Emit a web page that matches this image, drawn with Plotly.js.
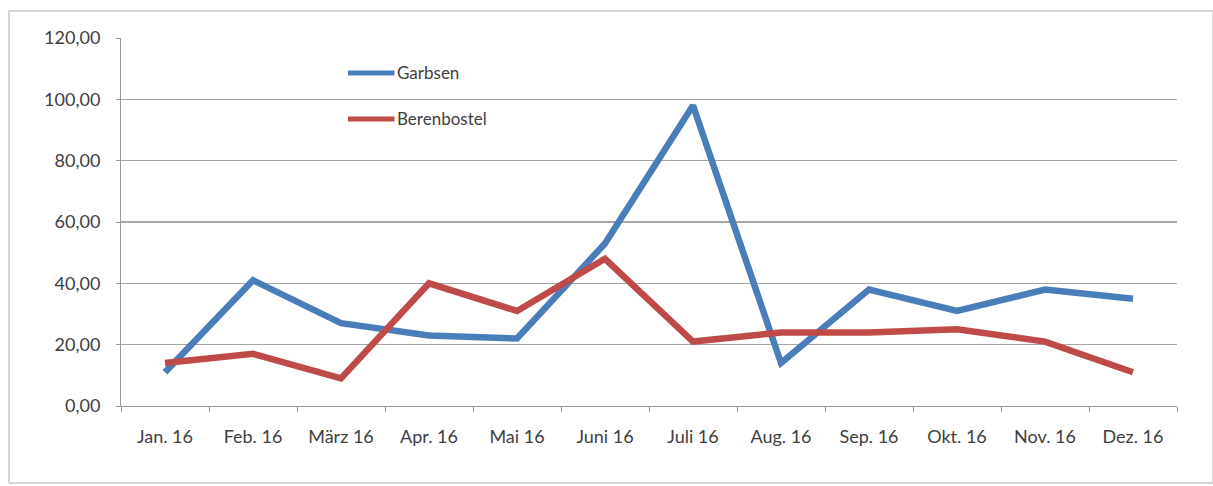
<!DOCTYPE html>
<html>
<head>
<meta charset="utf-8">
<script src="https://cdn.plot.ly/plotly-3.0.1.min.js"></script>
<style>
  html, body { margin: 0; padding: 0; background: #ffffff; }
  #wrap { position: relative; width: 1213px; height: 486px; }
  #chart { position: absolute; left: 0; top: 0; width: 1213px; height: 486px; }
  #frame {
    position: absolute; left: 8px; top: 10px; width: 1202px; height: 470px;
    border: 2px solid #d4d4d4; border-radius: 2px; pointer-events: none;
  }
</style>
</head>
<body>
<div id="wrap">
  <div id="chart"></div>
  <div id="frame"></div>
</div>
<script>
// Monthly values 2016
const months = ["Jan. 16", "Feb. 16", "März 16", "Apr. 16", "Mai 16", "Juni 16",
                "Juli 16", "Aug. 16", "Sep. 16", "Okt. 16", "Nov. 16", "Dez. 16"];
const garbsen     = [11, 41, 27, 23, 22, 53, 98, 14, 38, 31, 38, 35];
const berenbostel = [14, 17, 9, 40, 31, 48, 21, 24, 24, 25, 21, 11];
const seriesNames = ["Garbsen", "Berenbostel"];
const seriesColors = ["#4a7ebb", "#be4b48"];
const yTicks = [0, 20, 40, 60, 80, 100, 120];
const yTickText = ["0,00", "20,00", "40,00", "60,00", "80,00", "100,00", "120,00"];

const fontFamily = "Lato, 'Open Sans', sans-serif";
const textColor = "#404040";

const traces = [garbsen, berenbostel].map((vals, i) => ({
  type: "scatter",
  mode: "lines",
  x: months,
  y: vals,
  name: seriesNames[i],
  line: { color: seriesColors[i], width: 6.5 },
  showlegend: false
}));

// Legend drawn as line samples with labels inside the plot area
const legendY = [0.905, 0.78];
const shapes = [];
const annotations = [];
seriesNames.forEach((name, i) => {
  shapes.push({
    type: "line", xref: "paper", yref: "paper",
    x0: 0.215, x1: 0.259, y0: legendY[i], y1: legendY[i],
    line: { color: seriesColors[i], width: 5 }
  });
  annotations.push({
    xref: "paper", yref: "paper", x: 0.259, y: legendY[i],
    xanchor: "left", yanchor: "middle", showarrow: false,
    text: name, font: { family: fontFamily, size: 17, color: textColor }
  });
});

const layout = {
  width: 1213, height: 486,
  margin: { l: 121, r: 36, t: 38, b: 80 },
  paper_bgcolor: "#ffffff",
  plot_bgcolor: "#ffffff",
  showlegend: false,
  font: { family: fontFamily, size: 18, color: textColor },
  xaxis: {
    type: "category",
    range: [-0.5, 11.5],
    tickson: "boundaries",
    ticks: "outside", ticklen: 5, tickcolor: "#999999", tickwidth: 1,
    ticklabelstandoff: 14,
    showline: true, linecolor: "#999999", linewidth: 1,
    showgrid: false, zeroline: false,
    tickfont: { family: fontFamily, size: 18, color: textColor },
    fixedrange: true
  },
  yaxis: {
    range: [0, 120],
    tickvals: yTicks, ticktext: yTickText,
    ticks: "outside", ticklen: 4, tickcolor: "#999999", tickwidth: 1,
    ticklabelstandoff: 12,
    showline: true, linecolor: "#999999", linewidth: 1,
    showgrid: true, gridcolor: "#a6a6a6", gridwidth: 1.3,
    zeroline: false,
    tickfont: { family: fontFamily, size: 18, color: textColor },
    fixedrange: true
  },
  shapes: shapes,
  annotations: annotations
};

Plotly.newPlot("chart", traces, layout, { displayModeBar: false, staticPlot: true });
</script>
</body>
</html>
